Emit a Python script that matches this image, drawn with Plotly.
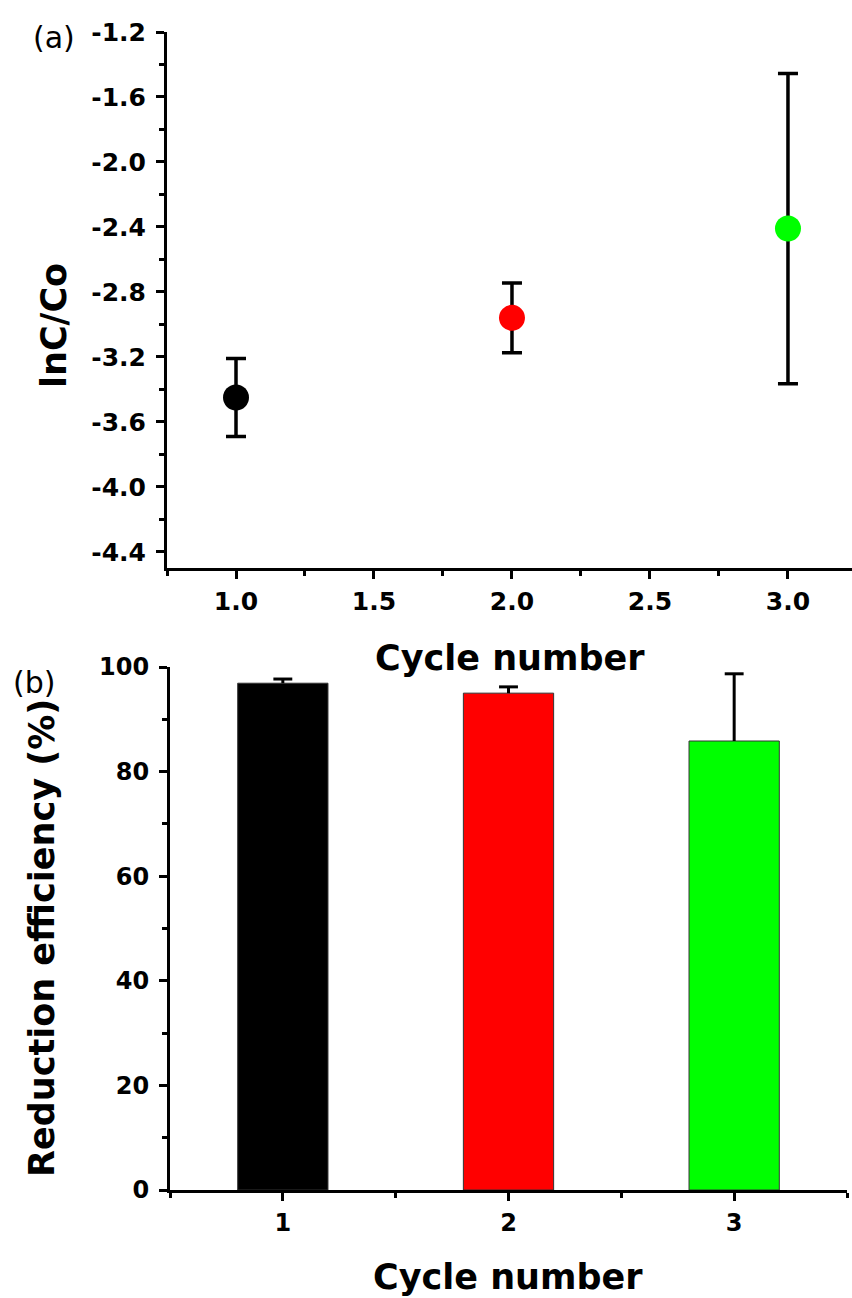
import plotly.graph_objects as go

W, H = 852, 1298

# ---------------- data ----------------
cycles_a = [1.0, 2.0, 3.0]
ln_c_c0 = [-3.45, -2.96, -2.41]
ln_err = [0.24, 0.215, 0.955]
point_colors = ["#000000", "#FF0000", "#00FF00"]

cycles_b = [1, 2, 3]
reduction_eff = [96.9, 95.0, 85.85]
reduction_err = [0.8, 1.2, 12.85]
bar_colors = ["#000000", "#FF0000", "#00FF00"]

y_ticks_a = [-4.4, -4.0, -3.6, -3.2, -2.8, -2.4, -2.0, -1.6, -1.2]
x_ticks_a = [1.0, 1.5, 2.0, 2.5, 3.0]

x_title = "Cycle number"
y_title_a = "lnC/Co"
y_title_b = "Reduction efficiency (%)"

# ---------------- helpers ----------------
def px(x):
    return x / W

def py(y):
    return 1 - y / H

FONT = "DejaVu Sans"
tick_font_a = dict(family=FONT, size=25, color="black", weight="bold")
tick_font_b = dict(family=FONT, size=24, color="black", weight="bold")
title_font = dict(family=FONT, size=35, color="black", weight="bold")

fig = go.Figure()

# panel (a) points with symmetric error bars
fig.add_trace(go.Scatter(
    x=cycles_a, y=ln_c_c0, mode="markers",
    marker=dict(size=26, color=point_colors, line=dict(width=0)),
    error_y=dict(type="data", array=ln_err, symmetric=True, width=10,
                 thickness=3.5, color="black"),
    xaxis="x", yaxis="y", showlegend=False,
))

# panel (b) bars
fig.add_trace(go.Bar(
    x=cycles_b, y=reduction_eff, width=0.4,
    marker=dict(color=bar_colors, line=dict(color="#333333", width=1)),
    xaxis="x2", yaxis="y2", showlegend=False,
))

# panel (b) plus-only error bars
tops = [v + e for v, e in zip(reduction_eff, reduction_err)]
fig.add_trace(go.Scatter(
    x=cycles_b, y=tops, mode="markers",
    marker=dict(symbol="line-ew", size=13.5, color="black",
                line=dict(color="black", width=3)),
    error_y=dict(type="data", symmetric=False, array=[0] * len(tops),
                 arrayminus=reduction_err, width=0, thickness=3, color="black"),
    xaxis="x2", yaxis="y2", showlegend=False, cliponaxis=False,
))

axis_common = dict(
    showline=True, linewidth=3, linecolor="black", mirror=False,
    showgrid=False, zeroline=False, automargin=False,
    ticks="outside", ticklen=8, tickwidth=3, tickcolor="black",
)

fig.update_layout(
    width=W, height=H,
    margin=dict(l=0, r=0, t=0, b=0, autoexpand=False),
    paper_bgcolor="white", plot_bgcolor="white",
    xaxis=dict(
        **axis_common, domain=[px(167), 1.0], anchor="y",
        range=[0.75, 3.232], tickmode="array", tickvals=x_ticks_a,
        ticktext=[f"{v:.1f}" for v in x_ticks_a],
        tickfont=tick_font_a, ticklabelstandoff=1,
        minor=dict(ticks="outside", ticklen=5, tickwidth=3, tickcolor="black", dtick=0.25, tick0=0.75, tickmode="linear"),
    ),
    yaxis=dict(
        **axis_common, domain=[py(568), py(32)], anchor="x",
        range=[-4.5, -1.2], tickmode="array", tickvals=y_ticks_a,
        ticktext=[f"{v:.1f}" for v in y_ticks_a],
        tickfont=tick_font_a, ticklabelstandoff=5,
        minor=dict(ticks="outside", ticklen=5, tickwidth=3, tickcolor="black", dtick=0.2, tick0=-4.4, tickmode="linear"),
    ),
    xaxis2=dict(
        **axis_common, domain=[px(170), px(847)], anchor="y2",
        range=[0.5, 3.5], tick0=1, dtick=1,
        tickfont=tick_font_b, ticklabelstandoff=1,
        minor=dict(ticks="outside", ticklen=5, tickwidth=3, tickcolor="black", dtick=0.5, tick0=0.5),
    ),
    yaxis2=dict(
        **axis_common, domain=[py(1190), py(667)], anchor="x2",
        range=[0, 100], tick0=0, dtick=20,
        tickfont=tick_font_b, ticklabelstandoff=5,
        minor=dict(ticks="outside", ticklen=5, tickwidth=3, tickcolor="black", dtick=10, tick0=0),
    ),
)

annotations = [
    dict(text="(a)", x=px(54), y=py(37), font=dict(family=FONT, size=30, color="black")),
    dict(text="(b)", x=px(34), y=py(683), font=dict(family=FONT, size=30, color="black")),
    dict(text=x_title, x=px(510), y=py(658), font=title_font),
    dict(text=x_title, x=px(508), y=py(1277), font=title_font),
    dict(text=y_title_a, x=px(54), y=py(326), font=title_font, textangle=-90),
    dict(text=y_title_b, x=px(42), y=py(938), font=title_font, textangle=-90),
]
for a in annotations:
    fig.add_annotation(xref="paper", yref="paper", xanchor="center", yanchor="middle",
                       showarrow=False, **a)

fig.write_html("out.html")
